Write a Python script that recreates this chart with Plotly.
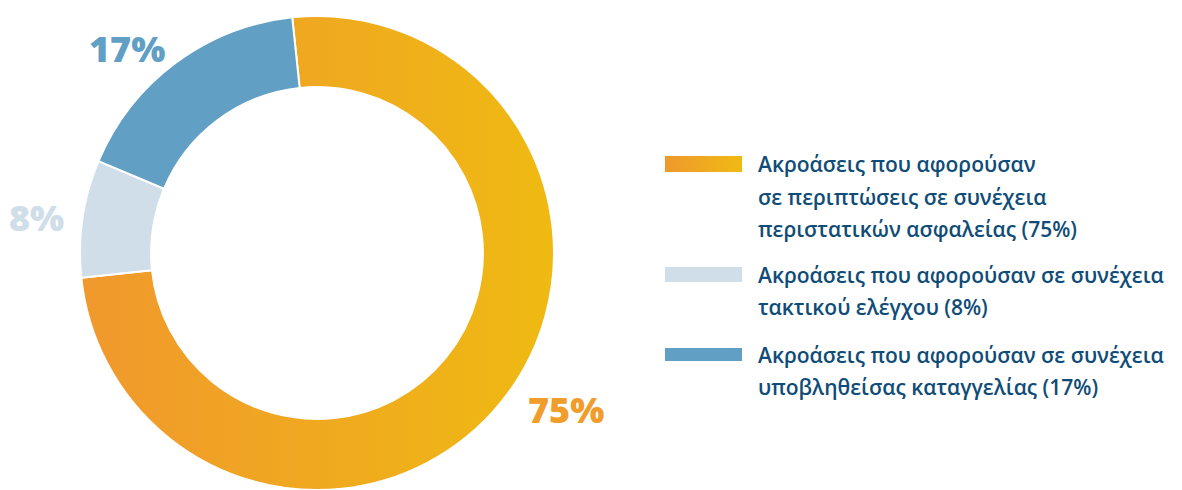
import numpy as np
import plotly.graph_objects as go

# ---- data ----
categories = [
    "Ακροάσεις που αφορούσαν σε περιπτώσεις σε συνέχεια περιστατικών ασφαλείας",
    "Ακροάσεις που αφορούσαν σε συνέχεια τακτικού ελέγχου",
    "Ακροάσεις που αφορούσαν σε συνέχεια υποβληθείσας καταγγελίας",
]
values = [75, 8, 17]
pct_labels = ["75%", "8%", "17%"]
legend_lines = [
    ["Ακροάσεις που αφορούσαν", "σε περιπτώσεις σε συνέχεια", "περιστατικών ασφαλείας (75%)"],
    ["Ακροάσεις που αφορούσαν σε συνέχεια", "τακτικού ελέγχου (8%)"],
    ["Ακροάσεις που αφορούσαν σε συνέχεια", "υποβληθείσας καταγγελίας (17%)"],
]

# ---- style ----
OFF = 8  # page body margin
W, H = 1182 - OFF, 490 - OFF
colors = ["#F0A324", "#D0DEEA", "#629FC4"]
gradient = [[0, "#F0982D"], [1, "#EFBA12"]]
label_colors = ["#F09D2B", "#D0DEEA", "#629FC4"]
text_color = "#0F4C77"
FONT = "Open Sans"
ROTATION = -6
HOLE = 0.70
# pie box in pixels (left, right, top, bottom), page coords minus offset
PL, PR, PT, PB = 80 - OFF, 554 - OFF, 16 - OFF, 490 - OFF
CX, CY = (PL + PR) / 2, (PT + PB) / 2
R = min(PR - PL, PB - PT) / 2

pct_pos = [(566 - OFF, 409 - OFF), (36 - OFF, 217 - OFF), (127 - OFF, 48 - OFF)]
key_x0, key_x1 = 665 - OFF, 742 - OFF
key_y = [(156 - OFF, 172 - OFF), (267 - OFF, 282 - OFF), (348 - OFF, 361 - OFF)]
text_x = 756 - OFF
baselines = [[172, 205, 237], [283, 315], [363, 395]]

fig = go.Figure()

# gradient fill for first slice (drawn under the pie, computed from the values)
total = sum(values)
start = ROTATION
for i, v in enumerate(values):
    end = start + 360 * v / total
    if i == 0:
        th = np.radians(np.linspace(start, end, 300))
        xo = CX + R * np.sin(th)
        yo = CY - R * np.cos(th)
        xi = CX + R * HOLE * np.sin(th[::-1])
        yi = CY - R * HOLE * np.cos(th[::-1])
        fig.add_trace(go.Scatter(
            x=np.concatenate([xo, xi, xo[:1]]), y=np.concatenate([yo, yi, yo[:1]]),
            mode="lines", line=dict(width=0, color="rgba(0,0,0,0)"),
            fill="toself", fillgradient=dict(type="horizontal", colorscale=gradient),
            hoverinfo="skip", showlegend=False))
    start = end

pie_colors = ["rgba(0,0,0,0)"] + colors[1:]
fig.add_trace(go.Pie(
    labels=categories, values=values, sort=False, direction="clockwise",
    rotation=ROTATION, hole=HOLE, textinfo="none", showlegend=False,
    marker=dict(colors=pie_colors, line=dict(color="white", width=2)),
    domain=dict(x=[PL / W, PR / W], y=[1 - PB / H, 1 - PT / H]),
))

# legend keys
for i, (y0, y1) in enumerate(key_y):
    kw = dict(fillcolor=colors[i])
    if i == 0:
        kw = dict(fillgradient=dict(type="horizontal", colorscale=gradient))
    fig.add_trace(go.Scatter(
        x=[key_x0, key_x1, key_x1, key_x0, key_x0], y=[y0, y0, y1, y1, y0],
        mode="lines", line=dict(width=0, color="rgba(0,0,0,0)"), fill="toself",
        hoverinfo="skip", showlegend=False, **kw))

annotations = []
for i, lab in enumerate(pct_labels):
    x, y = pct_pos[i]
    annotations.append(dict(
        x=x, y=y, xref="x", yref="y", text=lab, showarrow=False,
        xanchor="center", yanchor="middle",
        font=dict(family=FONT, size=36, weight=800, color=label_colors[i])))

for i, lines in enumerate(legend_lines):
    for j, line in enumerate(lines):
        annotations.append(dict(
            x=text_x, y=baselines[i][j] - OFF - 8, xref="x", yref="y", text=line,
            showarrow=False, xanchor="left", yanchor="middle",
            font=dict(family=FONT, size=21, weight=600, color=text_color)))

fig.update_layout(
    width=W, height=H, autosize=False,
    margin=dict(l=0, r=0, t=0, b=0, pad=0),
    paper_bgcolor="white", plot_bgcolor="white",
    xaxis=dict(range=[0, W], visible=False, fixedrange=True, domain=[0, 1]),
    yaxis=dict(range=[H, 0], visible=False, fixedrange=True, domain=[0, 1]),
    annotations=annotations,
)

fig.write_html("out.html")
